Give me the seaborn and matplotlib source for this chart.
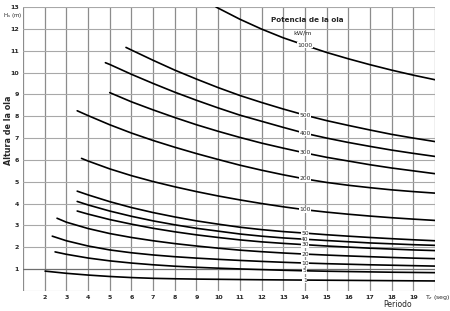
import matplotlib
matplotlib.use("Agg")
import matplotlib.pyplot as plt
import pandas as pd
import seaborn as sns

# curvas de potencia de la ola (kW/m): periodo Tz (s) y altura Hs (m)
T_1 = [2.02, 3, 4, 5, 6, 7, 8, 9, 10, 11, 12, 13, 14, 16, 18, 20]
H_1 = [0.91, 0.81, 0.73, 0.665, 0.615, 0.58, 0.56, 0.545, 0.535, 0.525, 0.515, 0.507, 0.5, 0.487, 0.473, 0.46]
T_5 = [2.48, 3, 4, 5, 6, 7, 8, 9, 10, 11, 12, 13, 14, 15, 16, 17, 18, 19, 20]
H_5 = [1.79, 1.68, 1.51, 1.38, 1.28, 1.2, 1.135, 1.085, 1.045, 1.01, 0.98, 0.95, 0.925, 0.905, 0.89, 0.875, 0.86, 0.85, 0.84]
T_10 = [2.35, 3, 4, 5, 6, 7, 8, 9, 10, 11, 12, 13, 14, 15, 16, 17, 18, 19, 20]
H_10 = [2.51, 2.3, 2.06, 1.88, 1.75, 1.65, 1.57, 1.505, 1.45, 1.4, 1.355, 1.315, 1.28, 1.25, 1.225, 1.2, 1.18, 1.16, 1.14]
T_20 = [2.57, 3, 4, 5, 6, 7, 8, 9, 10, 11, 12, 13, 14, 15, 16, 17, 18, 19, 20]
H_20 = [3.33, 3.15, 2.86, 2.63, 2.45, 2.3, 2.17, 2.06, 1.96, 1.87, 1.8, 1.74, 1.69, 1.645, 1.605, 1.57, 1.535, 1.505, 1.48]
T_30 = [3.5, 4, 5, 6, 7, 8, 9, 10, 11, 12, 13, 14, 15, 16, 17, 18, 19, 20]
H_30 = [3.66, 3.52, 3.27, 3.06, 2.87, 2.71, 2.57, 2.45, 2.34, 2.25, 2.18, 2.12, 2.06, 2.01, 1.96, 1.92, 1.88, 1.85]
T_40 = [3.5, 4, 5, 6, 7, 8, 9, 10, 11, 12, 13, 14, 15, 16, 17, 18, 19, 20]
H_40 = [4.1, 3.94, 3.66, 3.42, 3.21, 3.03, 2.87, 2.74, 2.61, 2.51, 2.43, 2.37, 2.31, 2.255, 2.2, 2.16, 2.12, 2.09]
T_50 = [3.5, 4, 5, 6, 7, 8, 9, 10, 11, 12, 13, 14, 15, 16, 17, 18, 19, 20]
H_50 = [4.57, 4.4, 4.09, 3.82, 3.59, 3.39, 3.21, 3.06, 2.92, 2.81, 2.72, 2.65, 2.575, 2.51, 2.45, 2.395, 2.345, 2.3]
T_100 = [3.7, 4, 5, 6, 7, 8, 9, 10, 11, 12, 13, 14, 15, 16, 17, 18, 19, 20]
H_100 = [6.07, 5.95, 5.59, 5.28, 5.01, 4.77, 4.55, 4.35, 4.17, 4.005, 3.855, 3.72, 3.61, 3.515, 3.43, 3.355, 3.29, 3.23]
T_200 = [3.5, 4, 5, 6, 7, 8, 9, 10, 11, 12, 13, 14, 15, 16, 17, 18, 19, 20]
H_200 = [8.25, 8.03, 7.61, 7.23, 6.89, 6.58, 6.29, 6.02, 5.76, 5.53, 5.32, 5.13, 4.97, 4.84, 4.73, 4.63, 4.55, 4.48]
T_300 = [5, 6, 7, 8, 9, 10, 11, 12, 13, 14, 15, 16, 17, 18, 19, 20]
H_300 = [9.08, 8.66, 8.29, 7.94, 7.61, 7.31, 7.03, 6.77, 6.54, 6.32, 6.12, 5.95, 5.78, 5.63, 5.5, 5.37]
T_400 = [4.8, 5, 6, 7, 8, 9, 10, 11, 12, 13, 14, 15, 16, 17, 18, 19, 20]
H_400 = [10.45, 10.37, 9.92, 9.5, 9.1, 8.73, 8.38, 8.05, 7.77, 7.49, 7.22, 7.0, 6.8, 6.62, 6.45, 6.3, 6.16]
T_500 = [5.75, 6, 7, 8, 9, 10, 11, 12, 13, 14, 15, 16, 17, 18, 19, 20]
H_500 = [11.15, 11.03, 10.56, 10.11, 9.7, 9.31, 8.95, 8.63, 8.33, 8.05, 7.8, 7.58, 7.37, 7.17, 7.0, 6.84]
T_1000 = [9.9, 11, 12, 13, 14, 15, 16, 17, 18, 19, 20]
H_1000 = [13.0, 12.44, 11.99, 11.59, 11.25, 10.92, 10.63, 10.36, 10.11, 9.88, 9.67]

curves = {1: (T_1, H_1), 5: (T_5, H_5), 10: (T_10, H_10), 20: (T_20, H_20),
          30: (T_30, H_30), 40: (T_40, H_40), 50: (T_50, H_50), 100: (T_100, H_100),
          200: (T_200, H_200), 300: (T_300, H_300), 400: (T_400, H_400),
          500: (T_500, H_500), 1000: (T_1000, H_1000)}

frames = []
for p, (t, h) in curves.items():
    frames.append(pd.DataFrame({'T': t, 'H': h, 'P': p}))
df = pd.concat(frames, ignore_index=True)

sns.set_style('white')
fig = plt.figure(figsize=(4.5, 3.11), dpi=100)
ax = fig.add_axes([0.0511, 0.0643, 0.9156, 0.9132])

sns.lineplot(data=df, x='T', y='H', hue='P', palette=['black'] * len(curves),
             legend=False, linewidth=1.2, sort=False, estimator=None, ax=ax)

# rejilla
ax.set_xlim(1, 20)
ax.set_ylim(0, 13)
ax.set_xticks(range(1, 21))
ax.set_xticklabels([''] + [str(i) for i in range(2, 20)] + [''])
ax.set_yticks(range(0, 14))
ax.set_yticklabels([''] + [str(i) for i in range(1, 14)])
for x in range(1, 21):
    ax.axvline(x, color='#8c8c8c', lw=0.9, zorder=0)
for y in range(0, 14):
    ax.axhline(y, color='#6e6e6e' if y == 1 else '#a8a8a8', lw=0.9 if y == 1 else 0.8, zorder=0)
for s in ax.spines.values():
    s.set_visible(False)
ax.tick_params(length=0, labelsize=4.5, pad=3)
for lab in ax.get_xticklabels() + ax.get_yticklabels():
    lab.set_fontweight('bold')
ax.set_xlabel('')
ax.set_ylabel('')

# etiquetas de potencia sobre las curvas
for p, (t, h) in curves.items():
    ax.text(14, h[t.index(14)], str(p), fontsize=4.3, ha='center', va='center',
            bbox=dict(facecolor='white', edgecolor='none', pad=0.4), zorder=5)

ax.text(14.1, 12.4, 'Potencia de la ola', fontsize=5.2, fontweight='bold', ha='center', va='center')
ax.text(13.9, 11.8, 'kW/m', fontsize=4.6, ha='center', va='center')

fig.text(0.006, 0.949, 'H$_s$ (m)', fontsize=4, va='center')
fig.text(0.018, 0.582, 'Altura de la ola', rotation=90, fontsize=5.8, fontweight='bold',
         ha='center', va='center')
fig.text(0.944, 0.042, 'T$_z$ (seg)', fontsize=4.5, va='center')
fig.text(0.884, 0.022, 'Periodo', fontsize=5.5, ha='center', va='center')

fig.savefig('out.png', dpi=100)
